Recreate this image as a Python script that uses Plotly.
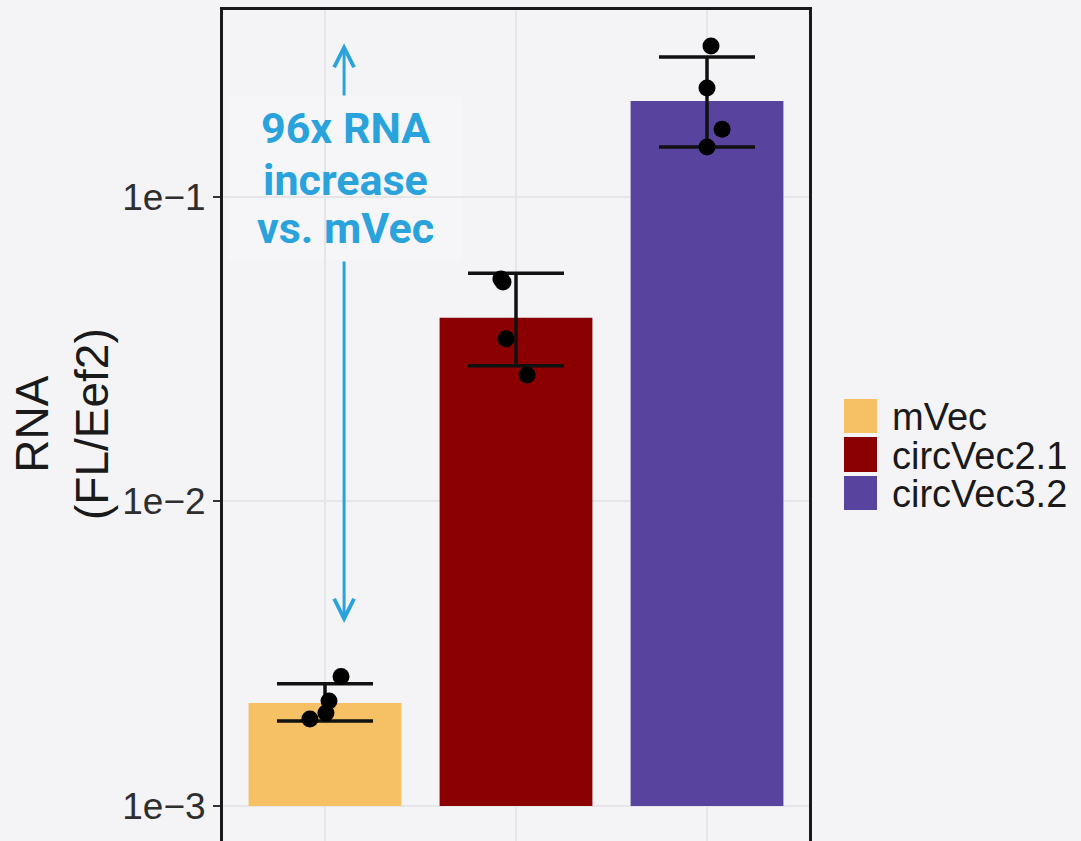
import math
import plotly.graph_objects as go

# ---- data -------------------------------------------------------------
categories = ["mVec", "circVec2.1", "circVec3.2"]
bar_colors = ["#F5C164", "#8B0000", "#58449E"]

mean_rna = [0.00218, 0.0401, 0.2066]
sd_upper = [0.00252, 0.0562, 0.288]
sd_lower = [0.00190, 0.0279, 0.146]

rep_mvec = [0.00266, 0.00221, 0.00202, 0.00193]
rep_circ21 = [0.0538, 0.0526, 0.0342, 0.0260]
rep_circ32 = [0.313, 0.228, 0.167, 0.146]

# horizontal jitter of the replicate dots (category units)
jit_mvec = [0.084, 0.021, 0.005, -0.079]
jit_circ21 = [-0.079, -0.068, -0.052, 0.058]
jit_circ32 = [0.021, 0.0, 0.079, 0.0]

fold_label = ["96x RNA", "increase", "vs. mVec"]
fold_arrow = [0.00399, 0.32]  # span of the double arrow

tick_vals = [1e-3, 1e-2, 1e-1]
tick_text = ["1e\u22123", "1e\u22122", "1e\u22121"]

y_title = "RNA<br>(FL/Eef2)"
bar_floor = 1e-3

# ---- layout geometry --------------------------------------------------
W, H = 1081, 841
ML, MR, MT, MB = 223, 272, 10, 0
PW, PH = W - ML - MR, H - MT - MB


def px_x(px):
    return (px - ML) / PW


def px_y(py):
    return (H - MB - py) / PH


BG = "#F4F4F7"
BLUE = "#2AA3DD"
FONT = "Liberation Sans, Arial, sans-serif"

x_idx = list(range(len(categories)))

fig = go.Figure()

# bars drawn up from the 1e-3 floor
for i, (cat, col) in enumerate(zip(categories, bar_colors)):
    fig.add_trace(go.Bar(
        x=[x_idx[i]], y=[mean_rna[i] - bar_floor], base=[bar_floor],
        width=0.8, marker=dict(color=col, line=dict(width=0)),
        name=cat, showlegend=False,
    ))

# mean +/- SD error bars
fig.add_trace(go.Scatter(
    x=x_idx, y=mean_rna, mode="markers",
    marker=dict(size=1, color="rgba(0,0,0,0)"),
    error_y=dict(
        type="data", symmetric=False,
        array=[u - m for u, m in zip(sd_upper, mean_rna)],
        arrayminus=[m - l for m, l in zip(mean_rna, sd_lower)],
        color="#111111", thickness=3.5, width=48,
    ),
    showlegend=False, hoverinfo="skip",
))

# replicate dots
reps = [rep_mvec, rep_circ21, rep_circ32]
jits = [jit_mvec, jit_circ21, jit_circ32]
px_pts, py_pts = [], []
for i, (vals, js) in enumerate(zip(reps, jits)):
    for v, j in zip(vals, js):
        px_pts.append(x_idx[i] + j)
        py_pts.append(v)
fig.add_trace(go.Scatter(
    x=px_pts, y=py_pts, mode="markers",
    marker=dict(size=17, color="#000000"),
    showlegend=False,
))

annotations = []
shapes = []

# fold-change double arrow (annotation coords on a log axis are log10)
arrow_x = 0.1
box_top_log, box_bot_log = -0.672, -1.207
annotations.append(dict(
    x=arrow_x, y=math.log10(fold_arrow[1]), ax=arrow_x, ay=box_top_log,
    xref="x", yref="y", axref="x", ayref="y", text="",
    showarrow=True, arrowhead=5, arrowsize=1.3, arrowwidth=3,
    arrowcolor=BLUE, standoff=0, startstandoff=0,
))
annotations.append(dict(
    x=arrow_x, y=math.log10(fold_arrow[0]), ax=arrow_x, ay=box_bot_log,
    xref="x", yref="y", axref="x", ayref="y", text="",
    showarrow=True, arrowhead=5, arrowsize=1.3, arrowwidth=3,
    arrowcolor=BLUE, standoff=0, startstandoff=0,
))

# label box behind the fold-change text
shapes.append(dict(
    type="rect", xref="paper", yref="paper",
    x0=px_x(228), x1=px_x(462), y0=px_y(260), y1=px_y(97),
    fillcolor="#F6F6F8", line=dict(width=0), layer="between",
))
for line, py in zip(fold_label, [128, 180, 228]):
    annotations.append(dict(
        x=px_x(345), y=px_y(py), xref="paper", yref="paper",
        text=f"<b>{line}</b>", showarrow=False,
        xanchor="center", yanchor="middle",
        font=dict(family="Roboto, sans-serif", size=43, color=BLUE),
    ))

# y-axis title
annotations.append(dict(
    x=px_x(62), y=px_y(424), xref="paper", yref="paper",
    text=y_title, showarrow=False, textangle=-90,
    xanchor="center", yanchor="middle",
    font=dict(family=FONT, size=46, color="#1A1A1A"),
))

# legend keys
key_rows = [(399, 433), (437, 472), (476, 510)]
for cat, col, (t, b) in zip(categories, bar_colors, key_rows):
    shapes.append(dict(
        type="rect", xref="paper", yref="paper",
        x0=px_x(844), x1=px_x(877), y0=px_y(b), y1=px_y(t),
        fillcolor=col, line=dict(width=0),
    ))
    annotations.append(dict(
        x=px_x(890), y=px_y((t + b) / 2 + 1), xref="paper", yref="paper",
        text=cat, showarrow=False, xanchor="left", yanchor="middle",
        font=dict(family=FONT, size=38, color="#1A1A1A"),
    ))

fig.update_layout(
    width=W, height=H,
    margin=dict(l=ML, r=MR, t=MT, b=MB, pad=0),
    paper_bgcolor=BG, plot_bgcolor=BG,
    showlegend=False,
    barmode="overlay",
    annotations=annotations, shapes=shapes,
    xaxis=dict(
        range=[-0.534, 2.534], tickvals=x_idx, showticklabels=False,
        ticks="", showgrid=True, gridcolor="#E6E6EA", gridwidth=1.5,
        side="top", showline=True, linecolor="#1A1A1A", linewidth=3,
        mirror=False, zeroline=False,
    ),
    yaxis=dict(
        type="log", range=[-3.115, -0.386],
        tickvals=tick_vals, ticktext=tick_text,
        ticks="outside", ticklen=7, tickwidth=1.5, tickcolor="#333333",
        tickfont=dict(family=FONT, size=37, color="#2E2E2E"),
        showgrid=True, gridcolor="#E6E6EA", gridwidth=1.5,
        showline=True, linecolor="#1A1A1A", linewidth=3, mirror=True,
        zeroline=False,
    ),
)

fig.write_html("out.html")
